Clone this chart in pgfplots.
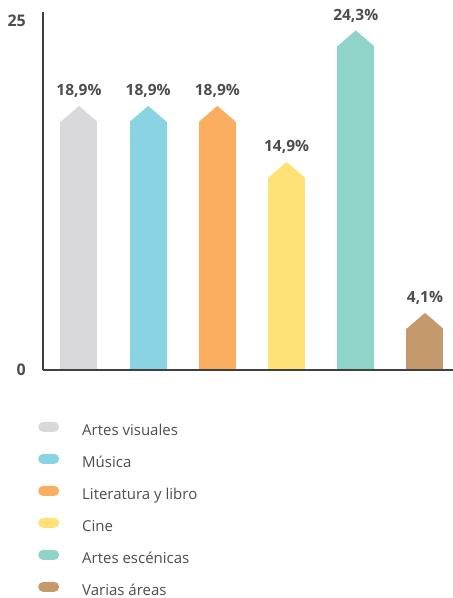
\documentclass[border=0pt]{standalone}
\usepackage{pgfplots}
\pgfplotsset{compat=1.18}
\usepackage{fontspec}
\setmainfont{Open Sans}

\definecolor{cvis}{HTML}{D9D9DB}
\definecolor{cmus}{HTML}{89D4E3}
\definecolor{clit}{HTML}{FBAE60}
\definecolor{ccin}{HTML}{FFE276}
\definecolor{cesc}{HTML}{8FD3C9}
\definecolor{cvar}{HTML}{C49A6C}
\definecolor{txt}{HTML}{4D4D4D}

% white corners that turn the top of a bar into a point
\pgfdeclareplotmark{notch}{%
  \pgfpathmoveto{\pgfqpoint{-19.5pt}{-16pt}}%
  \pgfpathlineto{\pgfqpoint{-18.5pt}{-16pt}}%
  \pgfpathlineto{\pgfqpoint{0pt}{0pt}}%
  \pgfpathlineto{\pgfqpoint{18.5pt}{-16pt}}%
  \pgfpathlineto{\pgfqpoint{19.5pt}{-16pt}}%
  \pgfpathlineto{\pgfqpoint{19.5pt}{1pt}}%
  \pgfpathlineto{\pgfqpoint{-19.5pt}{1pt}}%
  \pgfpathclose
  \pgfusepathqfill}

\pgfplotsset{
  bars/.style={
    ybar, bar width=37pt, bar shift=0pt, fill=#1, draw=none,
    nodes near coords={\pgfmathprintnumber[fixed,fixed zerofill,precision=1,use comma]{\pgfplotspointmeta}\%},
    nodes near coords style={font=\fontsize{15.5}{17}\selectfont\bfseries, text=txt,
      anchor=base, inner sep=0pt, yshift=10pt},
    legend image code/.code={\fill[#1, rounded corners=5pt] (0pt,0pt) rectangle (21pt,10pt);},
  },
}

\begin{document}
\begin{tikzpicture}
\useasboundingbox (0,0) rectangle (453pt,-598pt);
\begin{axis}[
  at={(43pt,-370pt)}, anchor=south west,
  scale only axis, width=410pt, height=358pt,
  xmin=-0.52, xmax=5.405, ymin=0, ymax=25.6,
  axis x line=bottom, axis y line=left,
  axis line style={-, draw=black!75, line width=1.2pt},
  axis on top,
  xtick=\empty, ytick={0,25},
  major tick length=0pt,
  /pgf/number format/assume math mode=true,
  yticklabel style={font=\fontsize{16}{18}\selectfont\bfseries, text=txt,
    anchor=east, inner sep=0pt, xshift=-17pt},
  clip=false,
  legend style={at={(-0.0122,-0.1444)}, anchor=north west, draw=none, fill=none,
    inner sep=0pt, row sep=15.5pt, column sep=23pt,
    nodes={inner sep=0pt, text height=10pt, text depth=3pt,
      font=\fontsize{15}{17}\selectfont, text=txt}},
  legend cell align=left,
]
\addplot[bars=cvis] coordinates {(0,18.9)};
\addlegendentry{Artes visuales}
\addplot[bars=cmus] coordinates {(1,18.9)};
\addlegendentry{Música}
\addplot[bars=clit] coordinates {(2,18.9)};
\addlegendentry{Literatura y libro}
\addplot[bars=ccin] coordinates {(3,14.9)};
\addlegendentry{Cine}
\addplot[bars=cesc] coordinates {(4,24.3)};
\addlegendentry{Artes escénicas}
\addplot[bars=cvar] coordinates {(5,4.1)};
\addlegendentry{Varias áreas}
\addplot[only marks, mark=notch, mark options={fill=white, draw=none}, forget plot]
  coordinates {(0,18.9) (1,18.9) (2,18.9) (3,14.9) (4,24.3) (5,4.1)};
\end{axis}
\end{tikzpicture}
\end{document}
